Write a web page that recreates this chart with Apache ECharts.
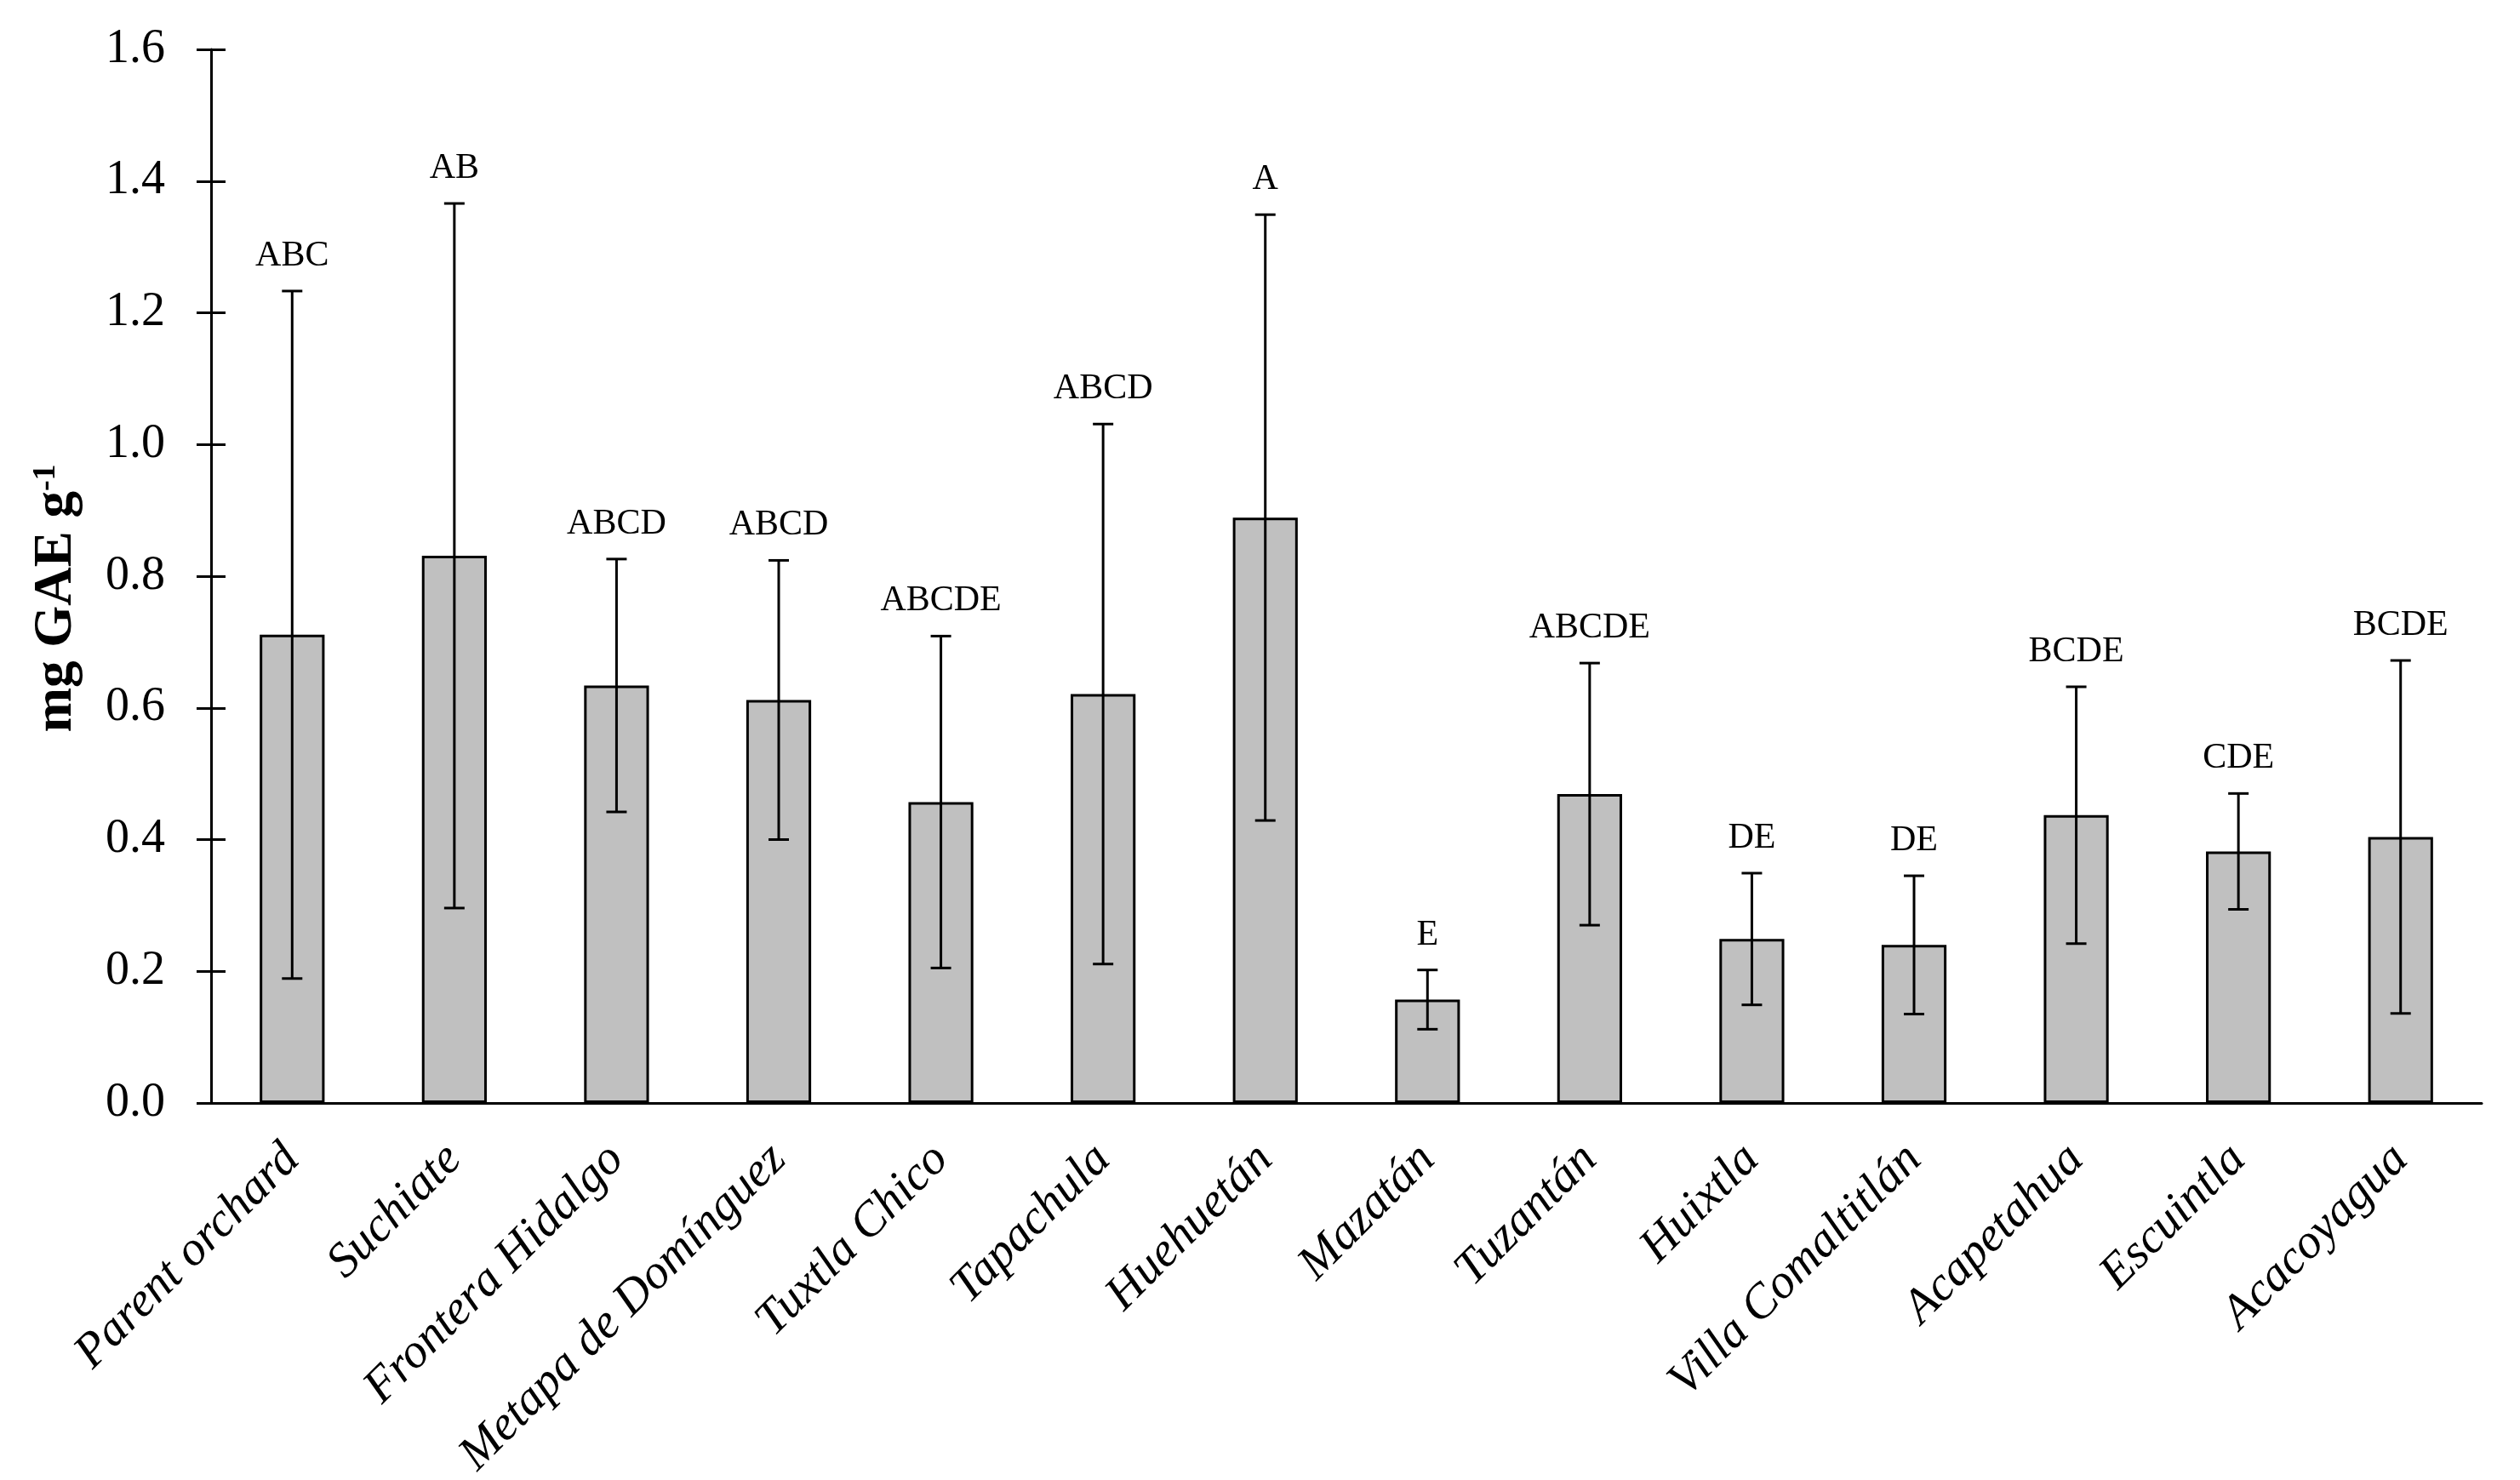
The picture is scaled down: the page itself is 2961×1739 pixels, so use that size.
<!DOCTYPE html>
<html>
<head>
<meta charset="utf-8">
<script src="https://cdn.jsdelivr.net/npm/echarts@6/dist/echarts.min.js"></script>
<style>
html,body{margin:0;padding:0;background:#fff;}
#chart{width:2961px;height:1739px;}
</style>
</head>
<body>
<div id="chart"></div>
<script>
var categories = ['Parent orchard','Suchiate','Frontera Hidalgo','Metapa de Domínguez','Tuxtla Chico','Tapachula','Huehuetán','Mazatán','Tuzantán','Huixtla','Villa Comaltitlán','Acapetahua','Escuintla','Acacoyagua'];
var means = [0.711, 0.831, 0.634, 0.612, 0.457, 0.621, 0.889, 0.157, 0.469, 0.249, 0.240, 0.437, 0.382, 0.404];
var sds = [0.522, 0.535, 0.192, 0.212, 0.252, 0.410, 0.460, 0.045, 0.199, 0.100, 0.105, 0.195, 0.088, 0.268];
var letters = ['ABC','AB','ABCD','ABCD','ABCDE','ABCD','A','E','ABCDE','DE','DE','BCDE','CDE','BCDE'];
var yTicks = {min: 0, max: 1.6, interval: 0.2};

var errData = means.map(function (m, i) { return [i, m + sds[i], m - sds[i]]; });

var FONT = '"Liberation Serif", "Times New Roman", serif';
var chart = echarts.init(document.getElementById('chart'));
chart.setOption({
  animation: false,
  backgroundColor: '#fff',
  grid: {left: 248, right: 45, top: 58, bottom: 443, containLabel: false, outerBoundsMode: 'none'},
  xAxis: {
    type: 'category',
    data: categories,
    axisLine: {lineStyle: {color: '#000', width: 3}},
    axisTick: {show: false},
    axisLabel: {
      interval: 0, rotate: 45, margin: 58,
      color: '#000', fontFamily: FONT, fontStyle: 'italic', fontSize: 57
    },
    splitLine: {show: false}
  },
  yAxis: [{
    type: 'value', position: 'left', offset: 0,
    min: yTicks.min, max: yTicks.max, interval: yTicks.interval,
    name: '{a|mg GAE g}{s|-1}',
    nameLocation: 'middle', nameRotate: 90, nameGap: 150,
    nameTextStyle: {
      padding: [0, 52, 0, 0],
      rich: {
        a: {fontFamily: FONT, fontWeight: 'bold', fontSize: 63, color: '#000'},
        s: {fontFamily: FONT, fontWeight: 'bold', fontSize: 38, color: '#000', verticalAlign: 'top', lineHeight: 63}
      }
    },
    axisLine: {show: true, lineStyle: {color: '#000', width: 3}},
    axisTick: {show: true, inside: false, length: 17, lineStyle: {color: '#000', width: 3}},
    axisLabel: {
      margin: 54, color: '#000', fontFamily: FONT, fontSize: 56,
      formatter: function (v) { return v.toFixed(1); }
    },
    splitLine: {show: false}
  }, {
    type: 'value', position: 'left', offset: 0,
    min: yTicks.min, max: yTicks.max, interval: yTicks.interval,
    axisLine: {show: false},
    axisTick: {show: true, inside: true, length: 17, lineStyle: {color: '#000', width: 3}},
    axisLabel: {show: false},
    splitLine: {show: false}
  }],
  series: [{
    type: 'bar',
    data: means,
    barWidth: '40%',
    itemStyle: {color: '#c0c0c0', borderColor: '#000', borderWidth: 3},
    z: 2
  }, {
    type: 'custom',
    data: errData,
    z: 5,
    renderItem: function (params, api) {
      var i = api.value(0);
      var hi = api.coord([i, api.value(1)]);
      var lo = api.coord([i, api.value(2)]);
      var cap = 12;
      var ls = {stroke: '#000', lineWidth: 3};
      return {
        type: 'group',
        children: [
          {type: 'line', shape: {x1: hi[0], y1: hi[1], x2: lo[0], y2: lo[1]}, style: ls},
          {type: 'line', shape: {x1: hi[0] - cap, y1: hi[1], x2: hi[0] + cap, y2: hi[1]}, style: ls},
          {type: 'line', shape: {x1: lo[0] - cap, y1: lo[1], x2: lo[0] + cap, y2: lo[1]}, style: ls},
          {type: 'text', style: {
            text: letters[i], x: hi[0], y: hi[1] - 20,
            align: 'center', verticalAlign: 'bottom',
            fontFamily: FONT, fontSize: 42, fill: '#000'
          }}
        ]
      };
    }
  }]
});
</script>
</body>
</html>
